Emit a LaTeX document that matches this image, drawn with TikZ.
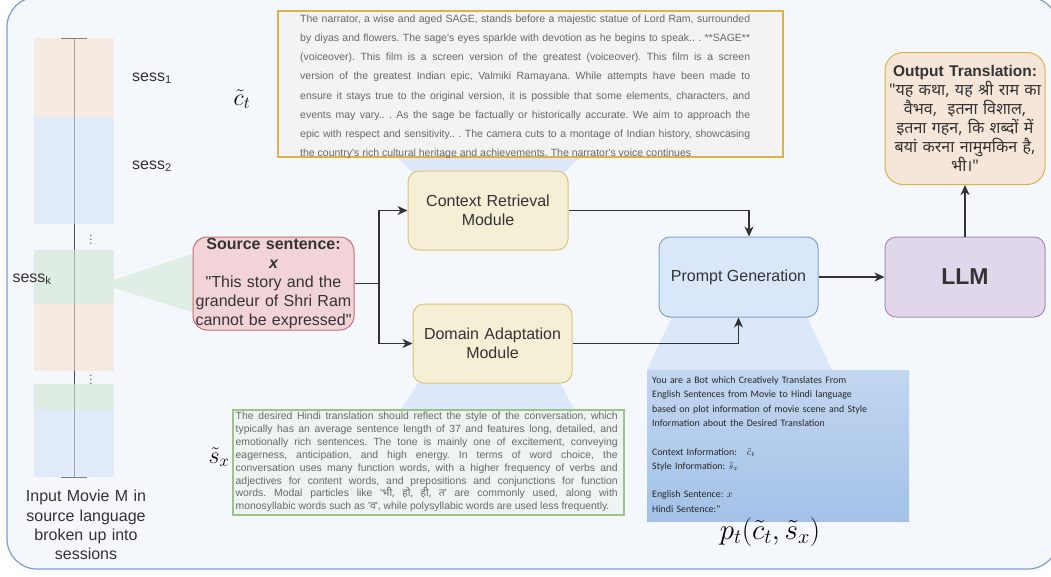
\RequirePackage{fix-cm}
\documentclass[tikz,border=0pt]{standalone}
\usepackage{fontspec}
\setmainfont{Liberation Sans}[Ligatures=TeXOff]
\newfontfamily\hindi[Script=Devanagari]{Noto Sans}
\newfontfamily\carl{Carlito}
\usetikzlibrary{arrows.meta}
\definecolor{bgfill}{HTML}{F4F7FC}
\definecolor{bgline}{HTML}{7C9DCB}
\definecolor{peach}{HTML}{F5EBE2}
\definecolor{sblue}{HTML}{E1EBFA}
\definecolor{sgreen}{HTML}{DFECE4}
\definecolor{txt}{HTML}{333333}
\definecolor{gtxt}{HTML}{686868}
\definecolor{yfill}{HTML}{F5EFD6}
\definecolor{yline}{HTML}{DBC27A}
\definecolor{rfill}{HTML}{F2D3D8}
\definecolor{rline}{HTML}{C07070}
\definecolor{bfill}{HTML}{DAE7FA}
\definecolor{bline}{HTML}{7EA1D1}
\definecolor{pfill}{HTML}{E0D7EA}
\definecolor{pline}{HTML}{A78BBF}
\definecolor{ofill}{HTML}{F6E6D9}
\definecolor{oline}{HTML}{DDB247}
\definecolor{funnel}{HTML}{DCE8FA}
\definecolor{gfunnel}{HTML}{E0EEE6}
\definecolor{ctfill}{HTML}{F3F3F3}
\definecolor{ctline}{HTML}{D9B44A}
\definecolor{sxfill}{HTML}{EEF4F0}
\definecolor{sxline}{HTML}{9BC48A}
\definecolor{ptop}{HTML}{C2D6F0}
\definecolor{pbot}{HTML}{A3C2E7}
\tikzset{
  box/.style={draw, rounded corners=11pt, line width=1pt, inner sep=0pt, align=center,
    text=txt, font=\fontsize{16}{19.2}\selectfont},
  arr/.style={draw=txt, line width=1.3pt, -{Stealth[length=10pt,width=9pt,inset=3pt]}},
  lbl/.style={text=txt, inner sep=0pt, font=\fontsize{16}{19.3}\selectfont},
  para/.style={inner sep=0pt, anchor=north west, align=justify},
  mlab/.style={inner sep=0pt, font=\fontsize{24}{28}\selectfont},
}
\begin{document}
\frenchspacing
\begin{tikzpicture}[x=1pt,y=-1pt]
\useasboundingbox (0,0) rectangle (1051,576);
\clip (0,0) rectangle (1051,576);
\lineskiplimit=-20pt
% frame
\draw[draw=bgline, fill=bgfill, line width=1.2pt, rounded corners=30pt] (7,-3) rectangle (1058,569);
% movie column
\fill[peach] (34,38) rectangle (114,117);
\fill[sblue] (34,117) rectangle (114,224);
\fill[sgreen] (34,250) rectangle (114,304);
\fill[peach] (34,304) rectangle (114,371);
\fill[sgreen] (34,384) rectangle (114,410);
\fill[sblue] (34,410) rectangle (114,477);
\draw[color=black!35, line width=1pt] (74,38) -- (74,477);
\draw[color=black!70, line width=1pt] (74,224) -- (74,250) (74,371) -- (74,384);
\draw[color=black!50, line width=1pt] (61,38) -- (87,38) (61,477) -- (87,477);
\node[lbl, font=\fontsize{11}{11}\selectfont, text=black!75] (dots1) at (91,237) {$\vdots$};
\node[lbl, font=\fontsize{11}{11}\selectfont, text=black!75] (dots2) at (91,377) {$\vdots$};
\node[lbl] (s1) at (152,78) {sess\textsubscript{1}};
\node[lbl] (s2) at (152,166) {sess\textsubscript{2}};
\node[lbl] (sk) at (32,279) {sess\textsubscript{k}};
\node[lbl, text width=140pt, align=center] (cap) at (86,525) {Input Movie M in\\ source language\\ broken up into\\ sessions};
% funnels
\fill[gfunnel] (114,280) -- (195,253) -- (195,313) -- (114,288) -- cycle;
\fill[funnel] (397,157) -- (580,157) -- (565,172) -- (412,172) -- cycle;
\fill[funnel] (418,383) -- (560,383) -- (575,411) -- (400,411) -- cycle;
\fill[funnel] (672,317) -- (807,317) -- (832,370) -- (647,370) -- cycle;
% context text box
\node[draw=ctline, fill=ctfill, line width=1.2pt, minimum width=505pt, minimum height=146pt, inner sep=0pt] (ctbox) at (530.5,84) {};
\node[para, text width=450pt, text=gtxt, font=\fontsize{10.5}{19.1}\selectfont] (cttext) at (300,14.8) {The narrator, a wise and aged SAGE, stands before a majestic statue of Lord Ram, surrounded\linebreak
by diyas and flowers. The sage's eyes sparkle with devotion as he begins to speak.. . **SAGE**\linebreak
(voiceover). This film is a screen version of the greatest (voiceover). This film is a screen\linebreak
version of the greatest Indian epic, Valmiki Ramayana. While attempts have been made to\linebreak
ensure it stays true to the original version, it is possible that some elements, characters, and\linebreak
events may vary.. . As the sage be factually or historically accurate. We aim to approach the\linebreak
epic with respect and sensitivity.. . The camera cuts to a montage of Indian history, showcasing\linebreak
the country's rich cultural heritage and achievements. The narrator's voice continues};
\node[mlab] (ctlab) at (242,99) {$\tilde{c}_t$};
% style text box
\node[draw=sxline, fill=sxfill, line width=1.2pt, minimum width=391pt, minimum height=105pt, inner sep=0pt] (sxbox) at (428.5,462.5) {};
\node[para, text width=382pt, text=gtxt, font=\fontsize{10.4}{12.86}\selectfont] (sxtext) at (235.5,412) {\parfillskip=0pt The desired Hindi translation should reflect the style of the conversation, which\linebreak
typically has an average sentence length of 37 and features long, detailed, and\linebreak
emotionally rich sentences. The tone is mainly one of excitement, conveying\linebreak
eagerness, anticipation, and high energy. In terms of word choice, the\linebreak
conversation uses many function words, with a higher frequency of verbs and\linebreak
adjectives for content words, and prepositions and conjunctions for function\linebreak
words. Modal particles like '{\hindi भी, हो, ही, त}' are commonly used, along with\linebreak
monosyllabic words such as '{\hindi व}', while polysyllabic words are used less frequently.};
\node[mlab] (sxlab) at (219,457) {$\tilde{s}_x$};
% prompt text box
\node[top color=ptop, bottom color=pbot, minimum width=262pt, minimum height=151pt, inner sep=0pt] (prbox) at (778,445.5) {};
\node[inner sep=0pt, anchor=north west, align=left, text width=255pt, text=black!85, font=\carl\fontsize{9.9}{14.3}\selectfont] (prtext) at (652,376.5) {You are a Bot which Creatively Translates From\\
English Sentences from Movie to Hindi language\\
based on plot information of movie scene and Style\\
Information about the Desired Translation\\[14.3pt]
Context Information:\ \ \ $\tilde{c}_t$\\
Style Information: $\tilde{s}_x$\\[14.3pt]
English Sentence: $x$\\
Hindi Sentence:"};
\node[inner sep=0pt, font=\fontsize{29}{34}\selectfont] (ptlab) at (770,532) {$p_t(\tilde{c}_t,\tilde{s}_x)$};
% main nodes
\node[box, fill=rfill, draw=rline, minimum width=161pt, minimum height=93pt, rounded corners=14pt, text width=158pt] (src) at (273.5,283.5)
  {{\bfseries Source sentence:}\\ {\bfseries\itshape x}\\ "This story and the\\ grandeur of Shri Ram\\ cannot be expressed"};
\node[box, fill=yfill, draw=yline, minimum width=160pt, minimum height=79pt, text width=150pt] (ctx) at (488,210.5) {Context Retrieval\\ Module};
\node[box, fill=yfill, draw=yline, minimum width=159pt, minimum height=79pt, text width=150pt] (dom) at (492.5,343.5) {Domain Adaptation\\ Module};
\node[box, fill=bfill, draw=bline, minimum width=159pt, minimum height=80pt] (pg) at (738.5,277) {Prompt Generation};
\node[box, fill=pfill, draw=pline, minimum width=160pt, minimum height=80pt, font=\fontsize{23}{27}\selectfont\bfseries] (llm) at (965,277) {LLM};
\node[box, fill=ofill, draw=oline, minimum width=160pt, minimum height=132pt, rounded corners=18pt, text width=156pt] (out) at (965,118.5)
  {{\bfseries\fontsize{15.5}{19}\selectfont Output Translation:}\\
   {\hindi\fontsize{16}{19}\selectfont "यह कथा, यह श्री राम का\\ वैभव,\ \ इतना विशाल,\\ इतना गहन, कि शब्दों में\\ बयां करना नामुमकिन है,\\ भी।"}};
% connectors
\coordinate (split) at (379,283.5);
\draw[draw=txt, line width=1.3pt] (src.east) -- (split);
\draw[arr] (split) |- (ctx.west);
\draw[arr] (split) |- (dom.west);
\draw[arr] (ctx.east) -| ([xshift=10.5pt]pg.north);
\draw[arr] (dom.east) -| (pg.south);
\draw[arr] (pg.east) -- (llm.west);
\draw[arr] (llm.north) -- (out.south);
\end{tikzpicture}
\end{document}
